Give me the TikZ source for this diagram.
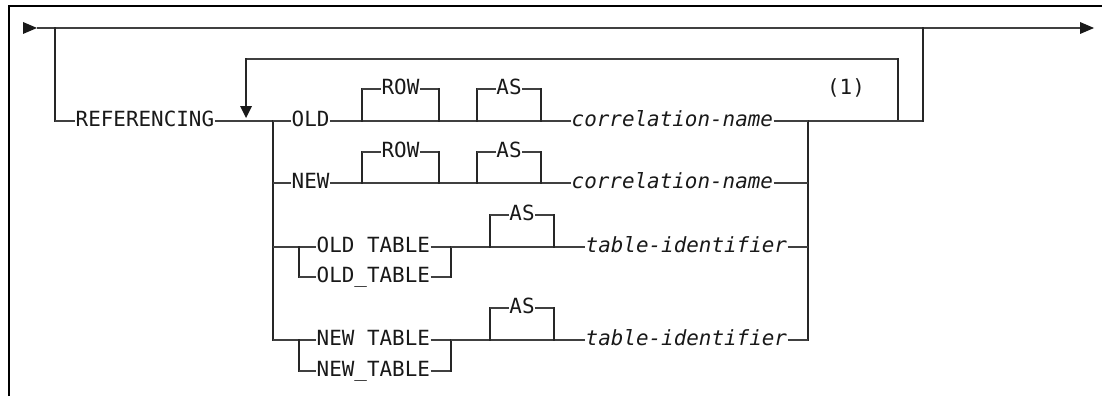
\documentclass[tikz,border=0pt]{standalone}
\usepackage{fontspec}
\newfontfamily\rrfont{DejaVu Sans Mono}
\newcommand\rrOpt[6]{%
  \node[kw,anchor=center] (#1) at ({(#2+#3)/2},#5) {#6};
  \draw[vl] (#2,#4) -- (#2,#5);
  \draw[hl] (#2,#5) -- (#1.west);
  \draw[hl] (#1.east) -- (#3,#5);
  \draw[vl] (#3,#5) -- (#3,#4);}
\begin{document}
\begin{tikzpicture}[x=1pt,y=-1pt,
  hl/.style={line width=1.4pt,draw=black!75},
  vl/.style={line width=2.2pt,draw=black!85,line cap=rect},
  kw/.style={font=\rrfont\fontsize{20.9}{25}\selectfont, inner xsep=0.5pt, inner ysep=0pt,
    text height=11.4pt, text depth=0pt, anchor=west, text=black!90},
  var/.style={kw, font=\rrfont\itshape\fontsize{20.9}{25}\selectfont},
  tip/.style={fill=black!90}]
\useasboundingbox (0,0) rectangle (1102,396);
% frame
\draw[line width=2pt] (9,396) -- (9,6) -- (1102,6);
% main line
\coordinate (start) at (37,28);
\coordinate (end) at (1080,28);
\coordinate (byL) at (55,28);
\coordinate (byR) at (923,28);
\draw[hl] (start) -- (end);
\fill[tip] (23,22) -- (37,28) -- (23,34) -- cycle;
\fill[tip] (1080,22) -- (1094,28) -- (1080,34) -- cycle;
% REFERENCING branch
\coordinate (byLb) at (55,121);
\node[kw] (ref) at (75,121) {REFERENCING};
\draw[vl] (byL) -- (byLb);
\draw[hl] (byLb) -- (ref.west);
\coordinate (railL) at (273,121);
\coordinate (railR) at (808,121);
\coordinate (byRb) at (923,121);
\draw[hl] (ref.east) -- (railL);
% repeat loop
\coordinate (loopL) at (246,59);
\coordinate (loopR) at (898,59);
\coordinate (loopRb) at (898,121);
\coordinate (loopTip) at (246,106);
\draw[hl] (loopL) -- (loopR);
\draw[vl] (loopL) -- (loopTip);
\draw[vl] (loopR) -- (loopRb);
\fill[tip] (240,106) -- (252,106) -- (246,118) -- cycle;
% right exit
\draw[hl] (railR) -- (byRb);
\draw[vl] (byRb) -- (byR);
% rails
\coordinate (railL4) at (273,340);
\coordinate (railR4) at (808,340);
\draw[vl] (railL) -- (railL4);
\draw[vl] (railR) -- (railR4);
% row 1
\node[kw] (old) at (291,121) {OLD};
\node[var] (cn1) at (571,121) {correlation-name};
\draw[hl] (railL) -- (old.west);
\draw[hl] (old.east) -- (cn1.west);
\draw[hl] (cn1.east) -- (railR);
\rrOpt{row1}{362}{439}{121}{89}{ROW}
\rrOpt{as1}{477}{541}{121}{89}{AS}
\node[kw,anchor=center] (note) at (846,89) {(1)};
% row 2
\coordinate (railL2) at (273,183);
\coordinate (railR2) at (808,183);
\node[kw] (new) at (291,183) {NEW};
\node[var] (cn2) at (571,183) {correlation-name};
\draw[hl] (railL2) -- (new.west);
\draw[hl] (new.east) -- (cn2.west);
\draw[hl] (cn2.east) -- (railR2);
\rrOpt{row2}{362}{439}{183}{152}{ROW}
\rrOpt{as2}{477}{541}{183}{152}{AS}
% row 3
\coordinate (railL3) at (273,247);
\coordinate (railR3) at (808,247);
\coordinate (g3a) at (299,247);
\coordinate (g3b) at (299,277);
\coordinate (g3c) at (451,247);
\coordinate (g3d) at (451,277);
\node[kw] (ot1) at (316,247) {OLD TABLE};
\node[kw] (ot2) at (316,277) {OLD\_TABLE};
\node[var] (ti1) at (585,247) {table-identifier};
\draw[hl] (railL3) -- (g3a) -- (ot1.west);
\draw[vl] (g3a) -- (g3b);
\draw[hl] (g3b) -- (ot2.west);
\draw[hl] (ot1.east) -- (g3c);
\draw[hl] (ot2.east) -- (g3d);
\draw[vl] (g3c) -- (g3d);
\draw[hl] (g3c) -- (ti1.west);
\draw[hl] (ti1.east) -- (railR3);
\rrOpt{as3}{490}{554}{247}{215}{AS}
% row 4
\coordinate (g4a) at (299,340);
\coordinate (g4b) at (299,371);
\coordinate (g4c) at (451,340);
\coordinate (g4d) at (451,371);
\node[kw] (nt1) at (316,340) {NEW TABLE};
\node[kw] (nt2) at (316,371) {NEW\_TABLE};
\node[var] (ti2) at (585,340) {table-identifier};
\draw[hl] (railL4) -- (g4a) -- (nt1.west);
\draw[vl] (g4a) -- (g4b);
\draw[hl] (g4b) -- (nt2.west);
\draw[hl] (nt1.east) -- (g4c);
\draw[hl] (nt2.east) -- (g4d);
\draw[vl] (g4c) -- (g4d);
\draw[hl] (g4c) -- (ti2.west);
\draw[hl] (ti2.east) -- (railR4);
\rrOpt{as4}{490}{554}{340}{308}{AS}
\end{tikzpicture}
\end{document}
